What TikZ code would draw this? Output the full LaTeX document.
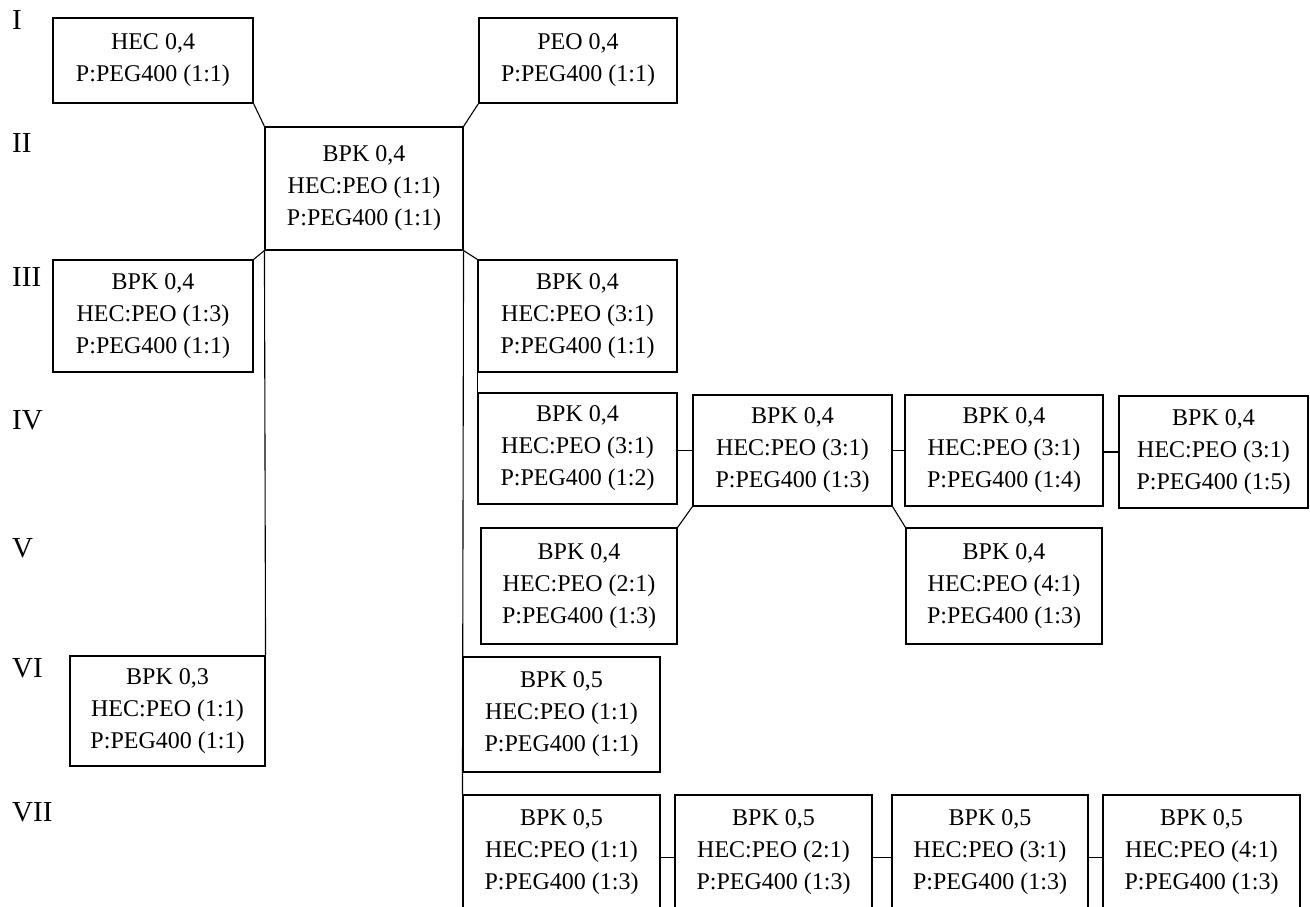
\documentclass[tikz,border=0pt]{standalone}
\usepackage{fontspec}
\setmainfont{Liberation Serif}
\usetikzlibrary{positioning,calc}

\begin{document}
\begin{tikzpicture}[x=1pt,y=-1pt,
 box/.style={draw=black,line width=1.1pt,align=center,inner sep=0pt,
 font=\fontsize{24}{32}\selectfont},
 link/.style={draw=black,line width=1.1pt},
 stage/.style={anchor=west,inner sep=0pt,font=\fontsize{29}{34}\selectfont}]
\useasboundingbox (0,0) rectangle (1310,907);
\clip (0,0) rectangle (1310,907);
% stage labels
\node[stage] (sI) at (12,20) {I};
\node[stage] (sII) at (12,143) {II};
\node[stage] (sIII) at (12,277) {III};
\node[stage] (sIV) at (12,420) {IV};
\node[stage] (sV) at (12,548) {V};
\node[stage] (sVI) at (12,668) {VI};
\node[stage] (sVII) at (12,812) {VII};
% stage I and II
\node[box,minimum width=200pt,minimum height=85pt] (hec) at (153,60.5)
 {HEC 0,4\\P:PEG400 (1:1)};
\node[box,minimum width=198pt,minimum height=85pt] (peo) at (578,60.5)
 {PEO 0,4\\P:PEG400 (1:1)};
\node[box,minimum width=198pt,minimum height=123pt] (mix) at (364,188.5)
 {BPK 0,4\\HEC:PEO (1:1)\\P:PEG400 (1:1)};
% stage III
\node[box,minimum width=200pt,minimum height=112pt] (hpa) at (153,316)
 {BPK 0,4\\HEC:PEO (1:3)\\P:PEG400 (1:1)};
\node[box,minimum width=199pt,minimum height=112pt] (hpb) at (577.5,316)
 {BPK 0,4\\HEC:PEO (3:1)\\P:PEG400 (1:1)};
% stage IV
\node[box,minimum width=199pt,minimum height=111pt] (pga) at (577.5,448.5)
 {BPK 0,4\\HEC:PEO (3:1)\\P:PEG400 (1:2)};
\node[box,minimum width=199pt,minimum height=111pt] (pgb) at (792.5,450.5)
 {BPK 0,4\\HEC:PEO (3:1)\\P:PEG400 (1:3)};
\node[box,minimum width=198pt,minimum height=111pt] (pgc) at (1004,450.5)
 {BPK 0,4\\HEC:PEO (3:1)\\P:PEG400 (1:4)};
\node[box,minimum width=189pt,minimum height=112pt] (pgd) at (1213.5,452)
 {BPK 0,4\\HEC:PEO (3:1)\\P:PEG400 (1:5)};
% stage V
\node[box,minimum width=196pt,minimum height=116pt] (hra) at (579,586)
 {BPK 0,4\\HEC:PEO (2:1)\\P:PEG400 (1:3)};
\node[box,minimum width=196pt,minimum height=116pt] (hrb) at (1004,586)
 {BPK 0,4\\HEC:PEO (4:1)\\P:PEG400 (1:3)};
% stage VI
\node[box,minimum width=195pt,minimum height=110pt] (bka) at (167.5,711)
 {BPK 0,3\\HEC:PEO (1:1)\\P:PEG400 (1:1)};
\node[box,minimum width=197pt,minimum height=115pt] (bkb) at (561.5,714.5)
 {BPK 0,5\\HEC:PEO (1:1)\\P:PEG400 (1:1)};
% stage VII
\node[box,minimum width=197pt,minimum height=115pt] (fna) at (561.5,852.5)
 {BPK 0,5\\HEC:PEO (1:1)\\P:PEG400 (1:3)};
\node[box,minimum width=197pt,minimum height=115pt] (fnb) at (773.5,852.5)
 {BPK 0,5\\HEC:PEO (2:1)\\P:PEG400 (1:3)};
\node[box,minimum width=196pt,minimum height=115pt] (fnc) at (990,852.5)
 {BPK 0,5\\HEC:PEO (3:1)\\P:PEG400 (1:3)};
\node[box,minimum width=197pt,minimum height=115pt] (fnd) at (1201.5,852.5)
 {BPK 0,5\\HEC:PEO (4:1)\\P:PEG400 (1:3)};
% links
\draw[link] (hec.south east) -- (mix.north west);
\draw[link] (peo.south west) -- (mix.north east);
\draw[link] (mix.south west) -- (hpa.north east);
\draw[link] (mix.south east) -- (hpb.north west);
\draw[link] (mix.south west) -- (bka.north east);
\draw[link] (mix.south east) -- (fna.north west);
\draw[link] (hpb.south west) -- (pga.north west);
\draw[link] (pgb.west -| pga.east) -- (pgb.west);
\draw[link] (pgb.east) -- (pgb.east -| pgc.west);
\draw[link] (pgd.west -| pgc.east) -- (pgd.west);
\draw[link] (pgb.south west) -- (hra.north east);
\draw[link] (pgb.south east) -- (hrb.north west);
\draw[link] ($(fna.east)+(0,5)$) -- ($(fnb.west)+(0,5)$);
\draw[link] ($(fnb.east)+(0,5)$) -- ($(fnc.west)+(0,5)$);
\draw[link] ($(fnc.east)+(0,5)$) -- ($(fnd.west)+(0,5)$);
\end{tikzpicture}
\end{document}
